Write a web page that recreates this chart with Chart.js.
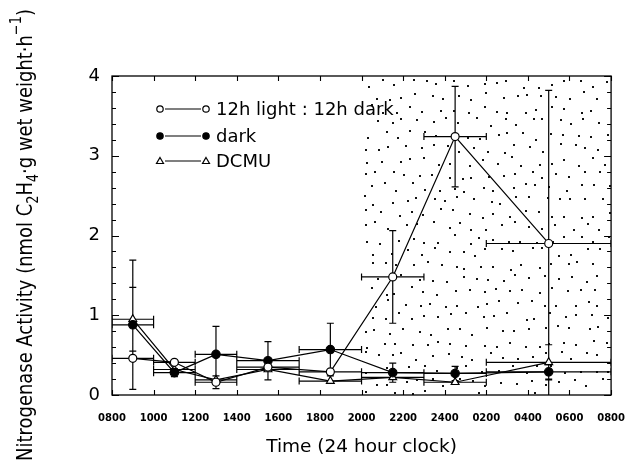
<!DOCTYPE html>
<html><head><meta charset="utf-8">
<script src="https://cdn.jsdelivr.net/npm/chart.js@4"></script>
<style>html,body{margin:0;padding:0;background:#fff}#wrap{width:642px;height:461px;position:relative}</style>
</head><body><div id="wrap"><canvas id="c" width="642" height="461"></canvas></div>
<script>
// hours after 0800
const times = [1, 3, 5, 7.5, 10.5, 13.5, 16.5, 21];
const timeErr = [1, 1, 1, 1.5, 1.5, 1.5, 1.5, 3];
const lightDark = [0.46, 0.41, 0.16, 0.35, 0.29, 1.48, 3.24, 1.90];
const lightDarkErr = [0, 0, 0.08, 0, 0, 0.58, 0.63, 1.92];
const dark = [0.88, 0.28, 0.51, 0.43, 0.57, 0.28, 0.27, 0.29];
const darkErr = [0.81, 0.05, 0.35, 0.24, 0.33, 0.12, 0.09, 0.09];
const dcmu = [0.95, 0.32, 0.19, 0.32, 0.175, 0.22, 0.16, 0.41];
const dcmuErr = [0.4, 0, 0, 0, 0, 0, 0, 0.22];
const xTickLabels = ['0800','1000','1200','1400','1600','1800','2000','2200','2400','0200','0400','0600','0800'];
const yTickLabels = ['0','1','2','3','4'];
const darkPeriod = [12, 24];
const seriesNames = ['12h light : 12h dark', 'dark', 'DCMU'];

const FONT = "'DejaVu Sans', sans-serif";
const mk = ys => times.map((t, i) => ({x: t, y: ys[i]}));

function hash(i, j, k) {
  const s = Math.sin(i * 127.1 + j * 311.7 + k * 74.7) * 43758.5453;
  return s - Math.floor(s);
}

const backgroundPlugin = {
  id: 'bg',
  beforeDatasetsDraw(chart) {
    const {ctx, chartArea: a, scales: {x, y}} = chart;
    ctx.save();
    // dotted dark-period shading (staggered, jittered texture)
    const x0 = x.getPixelForValue(darkPeriod[0]), x1 = x.getPixelForValue(darkPeriod[1]);
    const step = 14, rowStep = 13;
    ctx.fillStyle = '#111';
    for (let j = 0; (j * rowStep) < (a.bottom - a.top); j++) {
      const off = (j % 2) * step / 2;
      for (let i = -1; (i * step) < (x1 - x0); i++) {
        const px = x0 + off + i * step + 3 + hash(i, j, 1) * (step - 6);
        const py = a.top + j * rowStep + 2 + hash(i, j, 2) * (rowStep - 4);
        if (px > x0 + 1 && px < x1 - 2 && py < a.bottom - 2) ctx.fillRect(Math.round(px), Math.round(py), 2, 2);
      }
    }
    // frame
    ctx.strokeStyle = '#000';
    ctx.lineWidth = 1.3;
    ctx.strokeRect(a.left, a.top, a.right - a.left, a.bottom - a.top);
    // ticks
    ctx.lineWidth = 1.1;
    ctx.beginPath();
    for (let v = 0; v <= 4.0001; v += 0.2) {
      const py = Math.round(y.getPixelForValue(v)) + 0.5;
      const major = Math.abs(v - Math.round(v)) < 1e-6;
      const len = major ? 7 : 4;
      ctx.moveTo(a.left, py); ctx.lineTo(a.left + len, py);
      ctx.moveTo(a.right, py); ctx.lineTo(a.right - len, py);
    }
    for (let v = 0; v <= 24; v += 2) {
      const px = Math.round(x.getPixelForValue(v)) + 0.5;
      ctx.moveTo(px, a.bottom); ctx.lineTo(px, a.bottom - 5);
      ctx.moveTo(px, a.top); ctx.lineTo(px, a.top + 5);
    }
    ctx.stroke();
    // error bars
    ctx.save();
    ctx.beginPath();
    ctx.rect(a.left, a.top - 1, a.right - a.left, a.bottom - a.top + 1);
    ctx.clip();
    ctx.lineWidth = 1.2;
    ctx.beginPath();
    chart.data.datasets.forEach(ds => {
      ds.data.forEach((p, i) => {
        const px = x.getPixelForValue(p.x), py = y.getPixelForValue(p.y);
        const ey = ds.errY[i], ex = ds.errX[i];
        if (ey > 0) {
          const t = y.getPixelForValue(p.y + ey), b = y.getPixelForValue(p.y - ey);
          ctx.moveTo(px, t); ctx.lineTo(px, b);
          ctx.moveTo(px - 3.5, t); ctx.lineTo(px + 3.5, t);
          ctx.moveTo(px - 3.5, b); ctx.lineTo(px + 3.5, b);
        }
        if (ex > 0) {
          const l = x.getPixelForValue(p.x - ex), r = x.getPixelForValue(p.x + ex);
          ctx.moveTo(l, py); ctx.lineTo(r, py);
          ctx.moveTo(l, py - 3.5); ctx.lineTo(l, py + 3.5);
          ctx.moveTo(r, py - 3.5); ctx.lineTo(r, py + 3.5);
        }
      });
    });
    ctx.stroke();
    ctx.restore();
    ctx.restore();
  },
  afterDraw(chart) {
    const {ctx} = chart;
    ctx.save();
    // legend
    const rows = [109, 136, 161];
    const styles = ['open', 'filled', 'tri'];
    ctx.strokeStyle = '#000';
    ctx.lineWidth = 1.2;
    rows.forEach((ry, k) => {
      ctx.beginPath();
      ctx.moveTo(165, ry); ctx.lineTo(201, ry);
      ctx.stroke();
      [160, 206].forEach(mx => {
        ctx.beginPath();
        if (styles[k] === 'tri') {
          ctx.moveTo(mx, ry - 3.5); ctx.lineTo(mx + 3.5, ry + 2.5); ctx.lineTo(mx - 3.5, ry + 2.5); ctx.closePath();
          ctx.fillStyle = '#fff';
        } else {
          ctx.arc(mx, ry, 3.2, 0, Math.PI * 2);
          ctx.fillStyle = styles[k] === 'filled' ? '#000' : '#fff';
        }
        ctx.fill(); ctx.stroke();
      });
      ctx.fillStyle = '#000';
      ctx.font = '18px ' + FONT;
      ctx.textBaseline = 'middle';
      ctx.textAlign = 'left';
      ctx.fillText(seriesNames[k], 216, ry + 1);
    });
    // y-axis title with subscripts
    const parts = [
      ['Nitrogenase Activity (nmol C', 0], ['2', 1], ['H', 0], ['4', 1],
      ['\u00B7g wet weight\u00B7h', 0], ['\u22121', -1], [')', 0]
    ];
    const measure = fs => parts.reduce((s, [t, m]) => {
      ctx.font = (m ? fs * 0.72 : fs) + 'px ' + FONT;
      return s + ctx.measureText(t).width;
    }, 0);
    let fs = 18;
    fs = fs * 452 / measure(fs);
    const total = measure(fs);
    const sy = 15.5 / (0.73 * fs);
    ctx.translate(32, 235);
    ctx.rotate(-Math.PI / 2);
    ctx.scale(1, sy);
    ctx.textBaseline = 'alphabetic';
    ctx.textAlign = 'left';
    let cx = -total / 2;
    parts.forEach(([t, m]) => {
      ctx.font = (m ? fs * 0.72 : fs) + 'px ' + FONT;
      const dy = m === 1 ? fs * 0.3 : (m === -1 ? -fs * 0.5 : 0);
      ctx.fillText(t, cx, dy);
      cx += ctx.measureText(t).width;
    });
    ctx.restore();
  }
};

const common = {showLine: true, borderColor: '#000', borderWidth: 1.2, pointBorderColor: '#000',
  pointBorderWidth: 1.2, tension: 0, errX: timeErr};

new Chart(document.getElementById('c'), {
  type: 'scatter',
  data: {datasets: [
    Object.assign({label: seriesNames[0], data: mk(lightDark), pointStyle: 'circle', pointRadius: 4,
      pointBackgroundColor: '#fff', errY: lightDarkErr}, common),
    Object.assign({label: seriesNames[1], data: mk(dark), pointStyle: 'circle', pointRadius: 4.2,
      pointBackgroundColor: '#000', errY: darkErr}, common),
    Object.assign({label: seriesNames[2], data: mk(dcmu), pointStyle: 'triangle', pointRadius: 4.5,
      pointBackgroundColor: '#fff', errY: dcmuErr}, common)
  ]},
  options: {
    responsive: false, animation: false,
    layout: {padding: {left: 0, right: 14, top: 76, bottom: 0}},
    plugins: {legend: {display: false}, tooltip: {enabled: false}},
    scales: {
      x: {
        type: 'linear', min: 0, max: 24,
        afterFit(s) { s.height = 66; },
        afterBuildTicks(s) { s.ticks = xTickLabels.map((_, i) => ({value: i * 2})); },
        ticks: {callback: v => xTickLabels[v / 2], font: {family: FONT, size: 10, weight: 'bold'}, color: '#000',
          padding: 17, maxRotation: 0, autoSkip: false},
        grid: {display: false, drawTicks: false}, border: {display: false},
        title: {display: true, text: 'Time (24 hour clock)', font: {family: FONT, size: 18.5}, color: '#000',
          padding: {top: 0, bottom: 3}}
      },
      y: {
        min: 0, max: 4,
        afterFit(s) { s.width = 112; },
        afterBuildTicks(s) { s.ticks = yTickLabels.map((_, i) => ({value: i})); },
        ticks: {callback: v => yTickLabels[v], font: {family: FONT, size: 18}, color: '#000', padding: 12},
        grid: {display: false, drawTicks: false}, border: {display: false}
      }
    }
  },
  plugins: [backgroundPlugin]
});
</script></body></html>
